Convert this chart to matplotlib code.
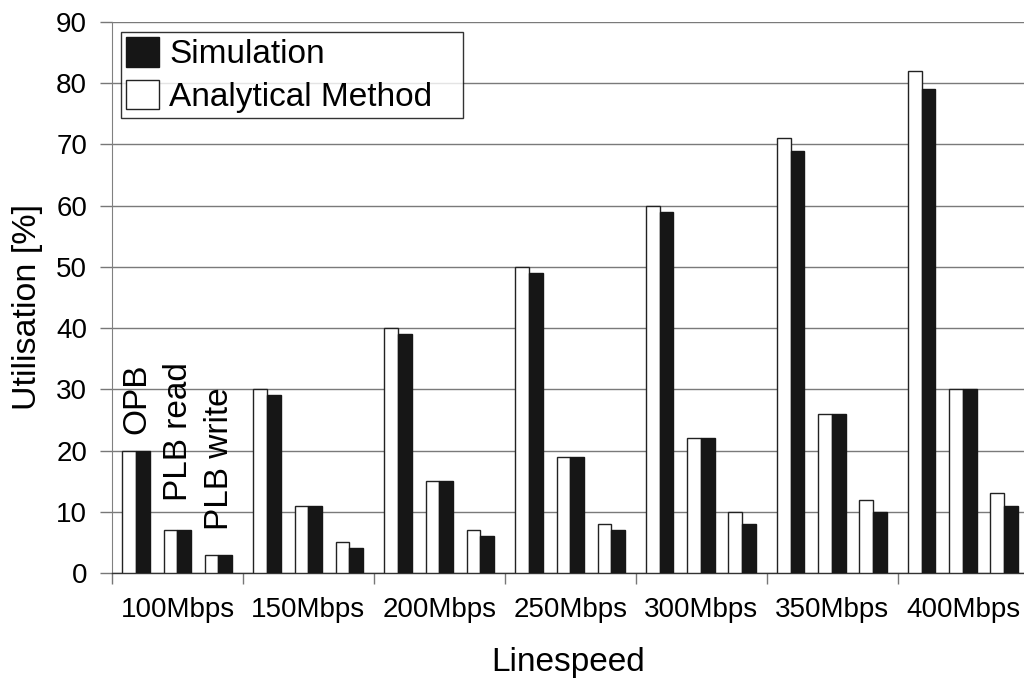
import numpy as np
import matplotlib
matplotlib.use('Agg')
import matplotlib.pyplot as plt
import matplotlib.ticker as mticker

### font
plt.rcParams['font.family'] = ['Liberation Sans', 'DejaVu Sans']

### data
linespeeds = ['100Mbps', '150Mbps', '200Mbps', '250Mbps', '300Mbps', '350Mbps', '400Mbps']
buses = ['OPB', 'PLB read', 'PLB write']

opb_analytical = [20, 30, 40, 50, 60, 71, 82]
opb_simulation = [20, 29, 39, 49, 59, 69, 79]
plb_read_analytical = [7, 11, 15, 19, 22, 26, 30]
plb_read_simulation = [7, 11, 15, 19, 22, 26, 30]
plb_write_analytical = [3, 5, 7, 8, 10, 12, 13]
plb_write_simulation = [3, 4, 6, 7, 8, 10, 11]

analytical = [opb_analytical, plb_read_analytical, plb_write_analytical]
simulation = [opb_simulation, plb_read_simulation, plb_write_simulation]

### figure
fig = plt.figure(figsize=(10.24, 6.83), dpi=100)
ax = fig.add_axes([0.1094, 0.1611, 0.8906, 0.8067])

x = np.arange(len(linespeeds))
offsets = [0.183, 0.5, 0.813]
w = 0.105

for k in range(len(buses)):
    c = x + offsets[k]
    ax.bar(c - w/2, analytical[k], width=w, color='white', edgecolor='#222222',
           linewidth=1.0, zorder=3, label='Analytical Method' if k == 0 else None)
    ax.bar(c + w/2, simulation[k], width=w, color='#161616', edgecolor='#161616',
           linewidth=1.0, zorder=3, label='Simulation' if k == 0 else None)

### bus labels above first group
label_y = [22.7, 11.8, 7.0]
for k, name in enumerate(buses):
    ax.text(offsets[k] + 0.01, label_y[k], name, rotation=90, ha='center', va='bottom',
            fontsize=24, color='black', zorder=4)

### axes
ax.set_xlim(0, 6.965)
ax.set_ylim(0, 90)
ax.set_yticks(range(0, 91, 10))
ax.set_xticks(x + 0.5)
ax.set_xticklabels(linespeeds)
ax.xaxis.set_minor_locator(mticker.FixedLocator(list(range(0, 7))))

ax.tick_params(axis='y', direction='out', length=9, width=1, color='#777777',
               labelsize=20, pad=9)
ax.tick_params(axis='x', which='major', length=0, labelsize=20, pad=17)
ax.tick_params(axis='x', which='minor', direction='out', length=8, width=1, color='#777777')

ax.grid(axis='y', color='#7a7a7a', linewidth=1.0)
ax.set_axisbelow(True)

for s in ['top', 'right']:
    ax.spines[s].set_visible(False)
ax.spines['left'].set_color('#808080')
ax.spines['bottom'].set_color('#333333')
ax.spines['bottom'].set_linewidth(1.0)

ax.set_ylabel('Utilisation [%]', fontsize=24.5)
ax.set_xlabel('Linespeed', fontsize=24)
ax.yaxis.set_label_coords(-0.076, 0.483)
ax.xaxis.set_label_coords(0.5, -0.135)

### legend
handles, labels = ax.get_legend_handles_labels()
order = [labels.index('Simulation'), labels.index('Analytical Method')]
leg = ax.legend([handles[i] for i in order], [labels[i] for i in order],
                loc='upper left', bbox_to_anchor=(0.0099, 0.5, 0.375, 0.482),
                mode='expand', borderaxespad=0,
                fontsize=24, frameon=True, fancybox=False, edgecolor='black',
                handlelength=1.0, handleheight=1.0, handletextpad=0.3,
                borderpad=0.15, labelspacing=0.28)
leg.get_frame().set_linewidth(1.0)
leg.set_zorder(5)

plt.savefig('out.png', dpi=100)
plt.close(fig)
